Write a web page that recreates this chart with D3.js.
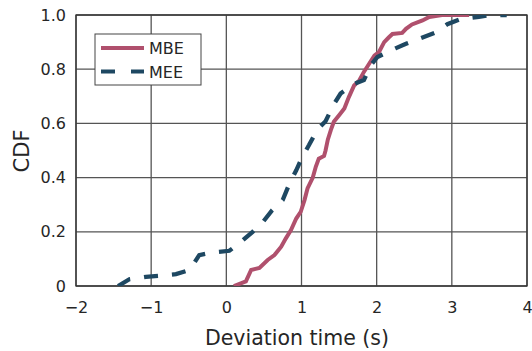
<!DOCTYPE html>
<html>
<head>
<meta charset="utf-8">
<script src="https://cdn.jsdelivr.net/npm/d3@7"></script>
<style>
  body { margin: 0; background: #fff; }
  svg text { font-family: "DejaVu Sans", sans-serif; fill: #262626; }
</style>
</head>
<body>
<div id="chart"></div>
<script>
// data
var xTicks = [-2, -1, 0, 1, 2, 3, 4];
var yTicks = [0, 0.2, 0.4, 0.6, 0.8, 1.0];
var seriesNames = ["MBE", "MEE"];

var mbeX = [0.10, 0.26, 0.33, 0.44, 0.55, 0.64, 0.73, 0.79, 0.86, 0.93, 0.99, 1.04, 1.08, 1.15, 1.19, 1.23, 1.30, 1.32, 1.35, 1.39, 1.43, 1.50, 1.57, 1.63, 1.70, 1.77, 1.83, 1.90, 1.97, 2.03, 2.10, 2.16, 2.21, 2.34, 2.39, 2.47, 2.61, 2.70, 2.87, 3.23];
var mbeY = [0.00, 0.017, 0.059, 0.067, 0.096, 0.114, 0.145, 0.175, 0.206, 0.249, 0.274, 0.317, 0.36, 0.40, 0.44, 0.47, 0.48, 0.50, 0.54, 0.575, 0.606, 0.63, 0.655, 0.697, 0.74, 0.759, 0.79, 0.82, 0.85, 0.863, 0.90, 0.917, 0.93, 0.934, 0.949, 0.965, 0.98, 0.993, 1.0, 1.0];

var meeX = [-1.44, -1.29, -1.07, -0.87, -0.67, -0.49, -0.36, -0.18, 0.04, 0.17, 0.35, 0.48, 0.61, 0.75, 0.84, 0.93, 1.01, 1.10, 1.21, 1.32, 1.43, 1.52, 1.70, 1.83, 1.92, 2.01, 2.25, 2.39, 2.61, 2.78, 2.94, 3.12, 3.36, 3.51, 3.73];
var meeY = [0.00, 0.025, 0.034, 0.038, 0.044, 0.059, 0.114, 0.124, 0.13, 0.157, 0.20, 0.234, 0.28, 0.317, 0.378, 0.427, 0.476, 0.52, 0.577, 0.608, 0.67, 0.71, 0.746, 0.76, 0.814, 0.845, 0.877, 0.894, 0.917, 0.935, 0.966, 0.985, 0.993, 1.0, 1.0];

var W = 532, H = 351;
var margin = {top: 15, right: 5, bottom: 65, left: 76};
var width = W - margin.left - margin.right;
var height = H - margin.top - margin.bottom;

var svg = d3.select("#chart").append("svg")
    .attr("width", W)
    .attr("height", H);

var g = svg.append("g")
    .attr("transform", "translate(" + margin.left + "," + margin.top + ")");

var x = d3.scaleLinear().domain([-2, 4]).range([0, width]);
var y = d3.scaleLinear().domain([0, 1]).range([height, 0]);

// grid
g.selectAll(".vgrid").data(xTicks).enter().append("line")
    .attr("x1", function(d) { return x(d); })
    .attr("x2", function(d) { return x(d); })
    .attr("y1", 0).attr("y2", height)
    .attr("stroke", "#555").attr("stroke-width", 1.3);
g.selectAll(".hgrid").data(yTicks).enter().append("line")
    .attr("y1", function(d) { return y(d); })
    .attr("y2", function(d) { return y(d); })
    .attr("x1", 0).attr("x2", width)
    .attr("stroke", "#555").attr("stroke-width", 1.3);

// axes (labels only, the grid does the lines)
var xAxis = d3.axisBottom(x).tickValues(xTicks).tickSize(0).tickPadding(16)
    .tickFormat(function(d) { return d < 0 ? "\u2212" + Math.abs(d) : d; });
var gx = g.append("g").attr("transform", "translate(0," + height + ")").call(xAxis);
gx.select(".domain").remove();
gx.selectAll("text").style("font-size", "16px").attr("fill", "#262626");

var yAxis = d3.axisLeft(y).tickValues(yTicks).tickSize(0).tickPadding(10)
    .tickFormat(function(d) { return d === 0 ? "0" : d3.format(".1f")(d); });
var gy = g.append("g").call(yAxis);
gy.select(".domain").remove();
gy.selectAll("text").style("font-size", "16px").attr("fill", "#262626");

// frame
g.append("rect")
    .attr("width", width).attr("height", height)
    .attr("fill", "none").attr("stroke", "#333").attr("stroke-width", 1.3);

var clip = svg.append("clipPath").attr("id", "clip")
  .append("rect").attr("width", width).attr("height", height);

var line = d3.line()
    .x(function(d) { return x(d[0]); })
    .y(function(d) { return y(d[1]); });

var mbe = mbeX.map(function(v, i) { return [v, mbeY[i]]; });
var mee = meeX.map(function(v, i) { return [v, meeY[i]]; });

var colors = {MBE: "#b0506d", MEE: "#1e4862"};
var dashes = {MBE: null, MEE: "14,14"};

g.append("path").datum(mbe)
    .attr("d", line)
    .attr("fill", "none")
    .attr("stroke", colors.MBE)
    .attr("stroke-width", 4)
    .attr("clip-path", "url(#clip)");

g.append("path").datum(mee)
    .attr("d", line)
    .attr("fill", "none")
    .attr("stroke", colors.MEE)
    .attr("stroke-width", 4.3)
    .attr("stroke-dasharray", dashes.MEE)
    .attr("clip-path", "url(#clip)");

// legend
var leg = svg.append("g").attr("transform", "translate(95,34)");
leg.append("rect")
    .attr("width", 106).attr("height", 51)
    .attr("fill", "#fff").attr("stroke", "#444").attr("stroke-width", 1);
seriesNames.forEach(function(name, i) {
  var yy = 14 + i * 23.5;
  leg.append("line")
      .attr("x1", 6).attr("x2", 49)
      .attr("y1", yy).attr("y2", yy)
      .attr("stroke", colors[name])
      .attr("stroke-width", 4)
      .attr("stroke-dasharray", name === "MEE" ? "14,16" : null);
  leg.append("text")
      .attr("x", 54).attr("y", yy + 6)
      .style("font-size", "16px")
      .text(name);
});

// axis titles
svg.append("text")
    .attr("x", 297)
    .attr("y", 345)
    .attr("text-anchor", "middle")
    .style("font-size", "20.5px")
    .text("Deviation time (s)");

svg.append("text")
    .attr("transform", "translate(28.5,151) rotate(-90)")
    .attr("text-anchor", "middle")
    .style("font-size", "21px")
    .text("CDF");
</script>
</body>
</html>
